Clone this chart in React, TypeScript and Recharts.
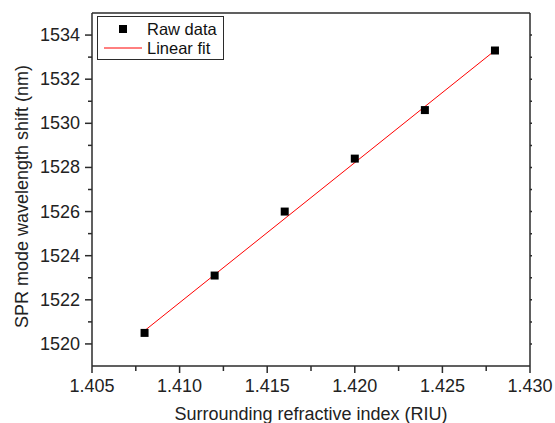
import { ComposedChart, Scatter, Line, XAxis, YAxis, Legend, Label } from "recharts"

// measured shift vs refractive index
const refIndex = [1.408, 1.412, 1.416, 1.42, 1.424, 1.428]
const shiftNm = [1520.5, 1523.1, 1526.0, 1528.4, 1530.6, 1533.3]

// linear fit end points as drawn
const fitIndex = [1.408, 1.428]
const fitShift = [1520.6, 1533.3]

const xTicks = [1.405, 1.4075, 1.41, 1.4125, 1.415, 1.4175, 1.42, 1.4225, 1.425, 1.4275, 1.43]
const xMajor = [1.405, 1.41, 1.415, 1.42, 1.425, 1.43]
const yTicks = [1520, 1521, 1522, 1523, 1524, 1525, 1526, 1527, 1528, 1529, 1530, 1531, 1532, 1533, 1534]
const yMajor = [1520, 1522, 1524, 1526, 1528, 1530, 1532, 1534]

const rawData = refIndex.map((x, i) => ({ x, y: shiftNm[i] }))
const fitData = fitIndex.map((x, i) => ({ x, y: fitShift[i] }))

const FONT = "'Liberation Sans', Arial, sans-serif"
const AXIS = "#2b2b2b"

const isMajorX = (v: number) => xMajor.some((m) => Math.abs(m - v) < 1e-6)

function BottomTick({ x, y, payload }: any) {
  const major = isMajorX(payload.value)
  return (
    <g>
      <line x1={x} x2={x} y1={y} y2={y + (major ? 7 : 5)} stroke={AXIS} strokeWidth={1.5} />
      {major && (
        <text x={x} y={y + 26} textAnchor="middle" fontFamily={FONT} fontSize={18} fill="#222">
          {payload.value.toFixed(3)}
        </text>
      )}
    </g>
  )
}

function LeftTick({ x, y, payload }: any) {
  const major = yMajor.includes(payload.value)
  return (
    <g>
      <line x1={x - (major ? 7 : 4)} x2={x} y1={y} y2={y} stroke={AXIS} strokeWidth={1.5} />
      {major && (
        <text x={x - 12} y={y + 6} textAnchor="end" fontFamily={FONT} fontSize={18} fill="#222">
          {payload.value}
        </text>
      )}
    </g>
  )
}

function TopTick({ x, y }: any) {
  return <line x1={x} x2={x} y1={y} y2={y - 2} stroke={AXIS} strokeWidth={1.5} />
}

function RightTick({ x, y }: any) {
  return <line x1={x} x2={x + 2} y1={y} y2={y} stroke={AXIS} strokeWidth={1.5} />
}

function FitLegend() {
  return (
    <svg width={127} height={44} style={{ display: "block" }}>
      <rect x={0.5} y={0.5} width={126} height={43} fill="#fff" stroke={AXIS} strokeWidth={1} />
      <rect x={22} y={9} width={8} height={8} fill="#000" />
      <text x={50} y={19} fontFamily={FONT} fontSize={16.5} fill="#111">Raw data</text>
      <line x1={7} x2={45} y1={32} y2={32} stroke="#ff0000" strokeWidth={1} />
      <text x={50} y={38} fontFamily={FONT} fontSize={16.5} fill="#111">Linear fit</text>
    </svg>
  )
}

export default function App() {
  return (
    <div style={{ position: "absolute", left: 0, top: 0, background: "#fff" }}>
      <ComposedChart width={555} height={423} margin={{ top: 0, right: 0, bottom: 0, left: 0 }}>
        <XAxis
          xAxisId="b"
          dataKey="x"
          type="number"
          domain={[1.405, 1.43]}
          allowDataOverflow
          ticks={xTicks}
          tick={<BottomTick />}
          tickLine={false}
          tickSize={0}
          tickMargin={0}
          height={57}
          interval={0}
          stroke={AXIS}
          strokeWidth={1.5}
        >
          <Label
            content={({ viewBox }: any) => (
              <text
                x={viewBox.x + viewBox.width / 2}
                y={viewBox.y + 54}
                textAnchor="middle"
                fontFamily={FONT}
                fontSize={18}
                fill="#222"
              >
                Surrounding refractive index (RIU)
              </text>
            )}
          />
        </XAxis>
        <XAxis
          xAxisId="t"
          orientation="top"
          type="number"
          domain={[1.405, 1.43]}
          allowDataOverflow
          ticks={xTicks}
          tick={<TopTick />}
          tickLine={false}
          tickSize={0}
          tickMargin={0}
          height={13}
          interval={0}
          stroke={AXIS}
          strokeWidth={1.5}
        />
        <YAxis
          yAxisId="l"
          type="number"
          domain={[1519, 1535]}
          allowDataOverflow
          ticks={yTicks}
          tick={<LeftTick />}
          tickLine={false}
          tickSize={0}
          tickMargin={0}
          width={92}
          interval={0}
          stroke={AXIS}
          strokeWidth={1.5}
        >
          <Label
            content={({ viewBox }: any) => {
              const cx = 28
              const cy = viewBox.y + viewBox.height / 2 + 7
              return (
                <text
                  x={cx}
                  y={cy}
                  transform={`rotate(-90, ${cx}, ${cy})`}
                  textAnchor="middle"
                  fontFamily={FONT}
                  fontSize={18}
                  fill="#222"
                >
                  SPR mode wavelength shift (nm)
                </text>
              )
            }}
          />
        </YAxis>
        <YAxis
          yAxisId="r"
          orientation="right"
          type="number"
          domain={[1519, 1535]}
          allowDataOverflow
          ticks={yTicks}
          tick={<RightTick />}
          tickLine={false}
          tickSize={0}
          tickMargin={0}
          width={25}
          interval={0}
          stroke={AXIS}
          strokeWidth={1.5}
        />
        <Line
          xAxisId="b"
          yAxisId="l"
          data={fitData}
          dataKey="y"
          type="linear"
          stroke="#ff0000"
          strokeWidth={1}
          dot={false}
          activeDot={false}
          isAnimationActive={false}
        />
        <Scatter
          xAxisId="b"
          yAxisId="l"
          data={rawData}
          dataKey="y"
          shape="square"
          fill="#000"
          isAnimationActive={false}
        />
        <Legend
          layout="vertical"
          align="center"
          verticalAlign="middle"
          content={() => <FitLegend />}
          wrapperStyle={{ left: 97, top: 16, width: 127, height: 44 }}
        />
      </ComposedChart>
    </div>
  )
}
